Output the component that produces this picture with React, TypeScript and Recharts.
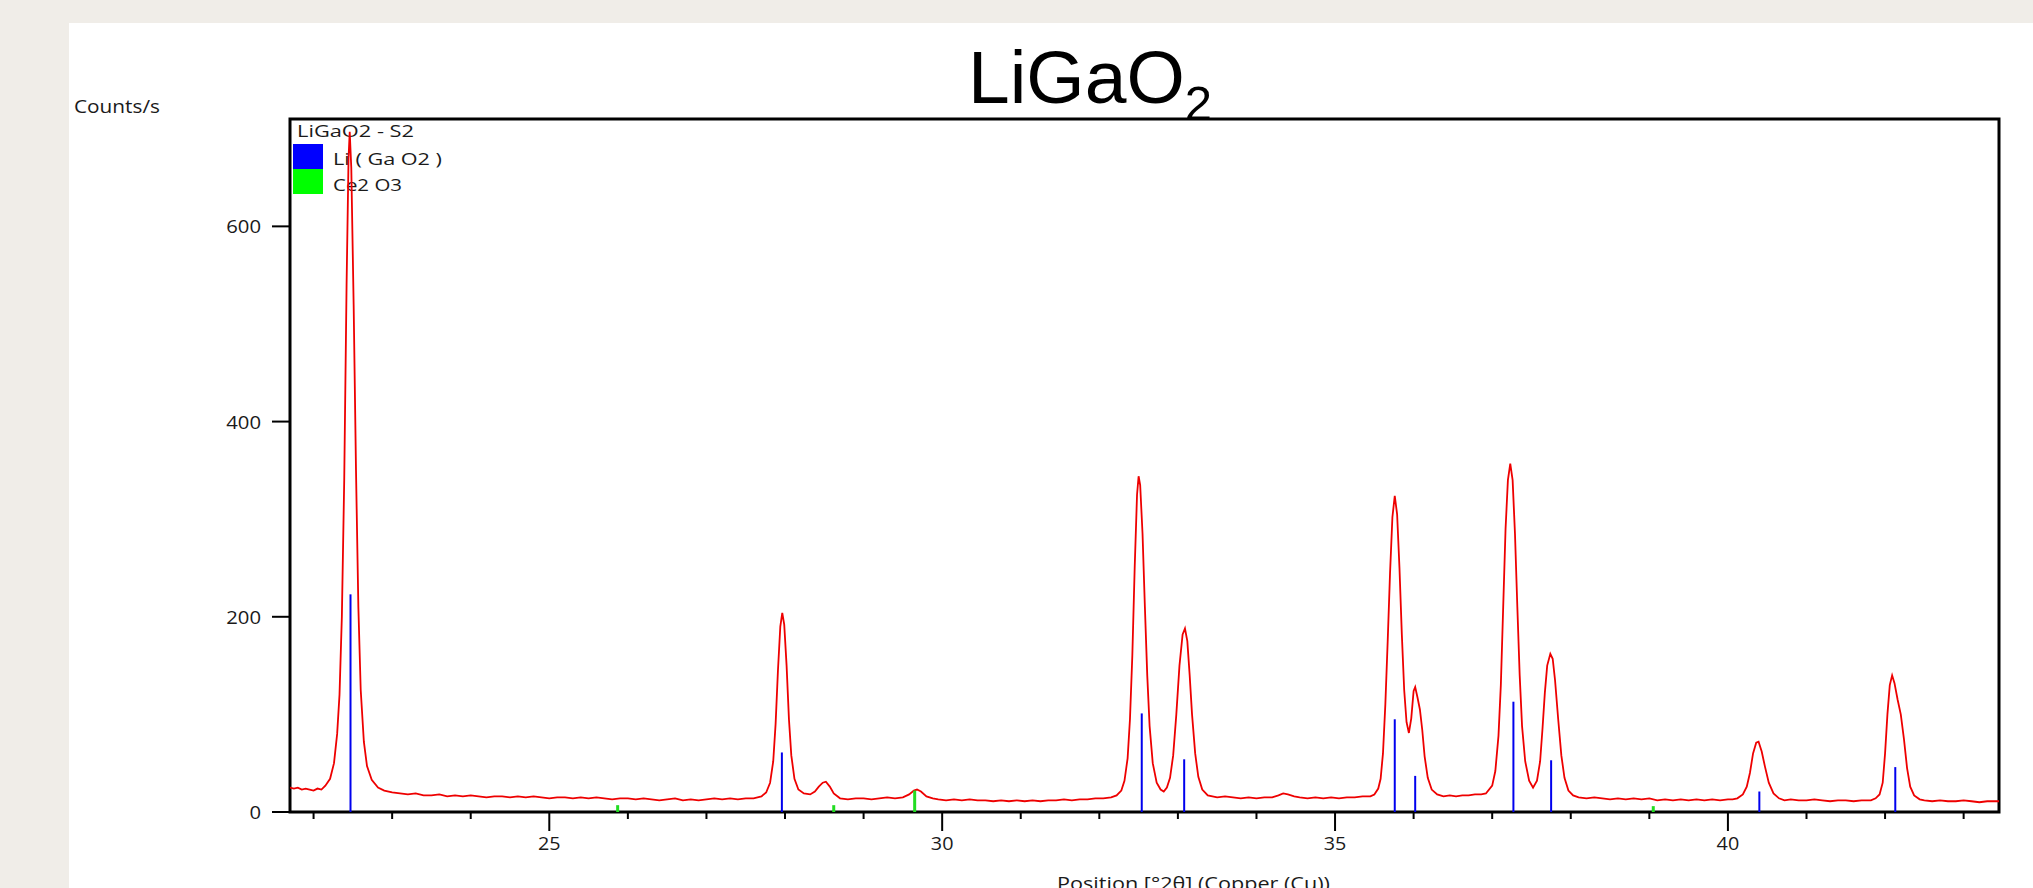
import { ComposedChart, Line, XAxis, YAxis, ReferenceLine, ReferenceArea } from 'recharts';

// measured scan, [2theta, counts/s]
const baseline22: [number, number][] = [
  [21.7, 25], [21.75, 24], [21.8, 25], [21.85, 23], [21.9, 24], [21.95, 23], [22.0, 22], [22.05, 24], [22.1, 23],
];
const peak22: [number, number][] = [
  [22.15, 27], [22.21, 34], [22.26, 50], [22.3, 80], [22.33, 120], [22.36, 200], [22.39, 340], [22.42, 540], [22.445, 670],
  [22.46, 697], [22.48, 660], [22.51, 520], [22.54, 350], [22.57, 210], [22.6, 125], [22.64, 72], [22.68, 47], [22.74, 33],
  [22.82, 25],
];
const baseline23to27: [number, number][] = [
  [22.9, 22], [23.0, 20], [23.1, 19], [23.2, 18], [23.3, 19], [23.4, 17], [23.5, 17], [23.6, 18], [23.7, 16], [23.8, 17],
  [23.9, 16], [24.0, 17], [24.1, 16], [24.2, 15], [24.3, 16], [24.4, 16], [24.5, 15], [24.6, 16], [24.7, 15], [24.8, 16],
  [24.9, 15], [25.0, 14], [25.1, 15], [25.2, 15], [25.3, 14], [25.4, 15], [25.5, 14], [25.6, 15], [25.7, 14], [25.8, 13],
  [25.9, 14], [26.0, 14], [26.1, 13], [26.2, 14], [26.3, 13], [26.4, 12], [26.5, 13], [26.6, 14], [26.7, 12], [26.8, 13],
  [26.9, 12], [27.0, 13], [27.1, 14], [27.2, 13], [27.3, 14], [27.4, 13], [27.5, 14], [27.6, 14],
];
const peak28: [number, number][] = [
  [27.7, 16], [27.76, 20], [27.81, 30], [27.85, 52], [27.88, 90], [27.91, 145], [27.94, 190], [27.965, 204], [27.99, 192],
  [28.02, 150], [28.05, 95], [28.08, 58], [28.12, 34], [28.17, 23], [28.24, 19], [28.32, 18], [28.38, 21], [28.43, 26],
  [28.48, 30], [28.52, 31], [28.57, 26], [28.62, 19], [28.7, 14],
];
const baseline29: [number, number][] = [
  [28.8, 13], [28.9, 14], [29.0, 14], [29.1, 13], [29.2, 14], [29.3, 15], [29.4, 14], [29.5, 15],
  [29.58, 18], [29.64, 22], [29.68, 23], [29.73, 21], [29.8, 16], [29.88, 14],
];
const baseline30to32: [number, number][] = [
  [29.95, 13], [30.05, 12], [30.15, 13], [30.25, 12], [30.35, 13], [30.45, 12], [30.55, 12], [30.65, 11], [30.75, 12],
  [30.85, 11], [30.95, 12], [31.05, 11], [31.15, 12], [31.25, 11], [31.35, 12], [31.45, 12], [31.55, 13], [31.65, 12],
  [31.75, 13], [31.85, 13], [31.95, 14], [32.05, 14], [32.15, 15],
];
const peak32: [number, number][] = [
  [32.22, 17], [32.28, 22], [32.32, 32], [32.36, 55], [32.39, 95], [32.42, 160], [32.45, 250], [32.48, 325], [32.5, 344],
  [32.52, 335], [32.55, 285], [32.58, 210], [32.61, 140], [32.64, 88], [32.68, 50], [32.73, 30], [32.78, 23], [32.82, 21],
  [32.86, 25], [32.9, 35], [32.94, 58], [32.98, 100], [33.02, 150], [33.06, 182], [33.09, 188], [33.12, 175], [33.15, 140],
  [33.18, 100], [33.22, 60], [33.26, 36], [33.31, 23], [33.38, 17],
];
const baseline34: [number, number][] = [
  [33.5, 15], [33.6, 16], [33.7, 15], [33.8, 14], [33.9, 15], [34.0, 14], [34.1, 15], [34.2, 15], [34.28, 17], [34.34, 19],
  [34.4, 18], [34.48, 16], [34.55, 15], [34.65, 14], [34.75, 15], [34.85, 14], [34.95, 15], [35.05, 14], [35.15, 15],
  [35.25, 15], [35.35, 16], [35.45, 16],
];
const peak36: [number, number][] = [
  [35.5, 18], [35.55, 24], [35.58, 34], [35.61, 60], [35.64, 110], [35.67, 175], [35.7, 245], [35.73, 302], [35.76, 324],
  [35.79, 305], [35.82, 250], [35.85, 182], [35.88, 125], [35.91, 92], [35.94, 81], [35.97, 96], [36.0, 124], [36.02, 128],
  [36.05, 117], [36.08, 105], [36.11, 84], [36.14, 57], [36.18, 35], [36.23, 23], [36.3, 18],
  [36.38, 16], [36.46, 17], [36.54, 16], [36.62, 17], [36.7, 17], [36.78, 18], [36.86, 18], [36.92, 19],
];
const peak37: [number, number][] = [
  [37.0, 27], [37.04, 42], [37.08, 78], [37.11, 130], [37.14, 210], [37.17, 290], [37.2, 340], [37.23, 357], [37.26, 340],
  [37.29, 285], [37.32, 210], [37.35, 140], [37.38, 88], [37.42, 52], [37.47, 32], [37.52, 25], [37.57, 32], [37.61, 52],
  [37.64, 85], [37.67, 122], [37.7, 150], [37.74, 162], [37.77, 157], [37.8, 135], [37.84, 95], [37.88, 58], [37.92, 35],
  [37.97, 22], [38.03, 17],
];
const baseline38to40: [number, number][] = [
  [38.1, 15], [38.2, 14], [38.3, 15], [38.4, 14], [38.5, 13], [38.6, 14], [38.7, 13], [38.8, 14], [38.9, 13], [39.0, 14],
  [39.1, 12], [39.2, 13], [39.3, 12], [39.4, 13], [39.5, 12], [39.6, 13], [39.7, 12], [39.8, 13], [39.9, 12], [40.0, 13],
  [40.06, 13],
];
const peak40: [number, number][] = [
  [40.12, 14], [40.19, 18], [40.24, 26], [40.28, 40], [40.32, 60], [40.36, 71], [40.39, 72], [40.43, 62], [40.47, 47],
  [40.52, 30], [40.58, 19], [40.65, 14],
  [40.72, 12], [40.8, 13], [40.9, 12], [41.0, 12], [41.1, 13], [41.2, 12], [41.3, 11], [41.4, 12], [41.5, 12], [41.6, 11],
  [41.7, 12], [41.76, 12],
];
const peak42: [number, number][] = [
  [41.82, 12], [41.88, 14], [41.93, 18], [41.97, 30], [42.0, 60], [42.03, 100], [42.06, 130], [42.09, 140], [42.12, 132],
  [42.16, 115], [42.2, 100], [42.24, 75], [42.28, 45], [42.32, 26], [42.37, 17], [42.44, 13],
  [42.5, 12], [42.6, 11], [42.7, 12], [42.8, 11], [42.9, 11], [43.0, 12], [43.1, 11], [43.2, 10], [43.3, 11], [43.4, 11],
  [43.45, 11],
];

// reference patterns (stick positions / heights)
const liGaO2Pos = [22.47, 27.96, 32.54, 33.08, 35.76, 36.02, 37.27, 37.75, 40.4, 42.13];
const liGaO2Height = [223, 61, 101, 54, 95, 37, 113, 53, 21, 46];
const ce2O3Pos = [25.87, 28.62, 29.65, 39.05];
const ce2O3Height = [7, 7, 22, 6];

const xTicks = [22, 23, 24, 25, 26, 27, 28, 29, 30, 31, 32, 33, 34, 35, 36, 37, 38, 39, 40, 41, 42, 43];
const yTicks = [0, 200, 400, 600];

const scan = [
  ...baseline22, ...peak22, ...baseline23to27, ...peak28, ...baseline29, ...baseline30to32, ...peak32,
  ...baseline34, ...peak36, ...peak37, ...baseline38to40, ...peak40, ...peak42,
].map(([pos, counts]) => ({ pos, counts }));

const labelFont = '"Open Sans", "Noto Sans", sans-serif';

const XTick = (props: any) => {
  const { x, y, payload } = props;
  const major = payload.value % 5 === 0;
  return (
    <g>
      <line x1={x} y1={y} x2={x} y2={y + (major ? 19 : 7)} stroke="#000" strokeWidth={2} />
      {major && (
        <text x={x} y={y + 38} textAnchor="middle" fontFamily={labelFont} fontSize={19} fill="#1a1a1a"
          textLength={String(payload.value).length * 11.3} lengthAdjust="spacingAndGlyphs">
          {payload.value}
        </text>
      )}
    </g>
  );
};

const YTick = (props: any) => {
  const { x, y, payload } = props;
  return (
    <g>
      <line x1={x - 18} y1={y} x2={x} y2={y} stroke="#000" strokeWidth={2} />
      <text x={x - 29} y={y + 7} textAnchor="end" fontFamily={labelFont} fontSize={19} fill="#1a1a1a"
        textLength={String(payload.value).length * 11.6} lengthAdjust="spacingAndGlyphs">
        {payload.value}
      </text>
    </g>
  );
};

export default function App() {
  return (
    <div style={{ position: 'relative', width: 2033, height: 888, background: '#f0ede8', overflow: 'hidden' }}>
      <style>{`body{margin:0}`}</style>
      <div style={{ position: 'absolute', left: 69, top: 23, right: 0, bottom: 0, background: '#fff' }} />

      {/* legend sits under the trace, like in the HighScore export */}
      <svg width={2033} height={888} style={{ position: 'absolute', left: 0, top: 0 }}>
        <text x={297} y={137} fontFamily={labelFont} fontSize={16} fill="#1a1a1a" textLength={117} lengthAdjust="spacingAndGlyphs">
          LiGaO2 - S2
        </text>
        <rect x={293} y={144} width={30} height={25} fill="#0000ff" />
        <text x={333} y={165} fontFamily={labelFont} fontSize={17} fill="#1a1a1a" textLength={109} lengthAdjust="spacingAndGlyphs">
          Li ( Ga O2 )
        </text>
        <rect x={293} y={169} width={30} height={25} fill="#00ff00" />
        <text x={333} y={191} fontFamily={labelFont} fontSize={17} fill="#1a1a1a" textLength={69} lengthAdjust="spacingAndGlyphs">
          Ce2 O3
        </text>
      </svg>

      <div style={{ position: 'absolute', left: 0, top: 0 }}>
        <ComposedChart width={2033} height={888} data={scan} margin={{ top: 119, right: 34, bottom: 0, left: 0 }}>
          <XAxis dataKey="pos" type="number" domain={[21.7, 43.45]} allowDataOverflow ticks={xTicks} interval={0}
            height={76} axisLine={false} tickLine={false} tickSize={0} tickMargin={0} tick={<XTick />} />
          <YAxis type="number" domain={[0, 710]} allowDataOverflow ticks={yTicks} interval={0}
            width={290} axisLine={false} tickLine={false} tickSize={0} tickMargin={0} tick={<YTick />} />
          <ReferenceArea x1={21.7} x2={43.45} y1={0} y2={710} fill="none" stroke="#000" strokeWidth={3} />
          <Line type="linear" dataKey="counts" stroke="#ee0000" strokeWidth={1.8} dot={false} isAnimationActive={false} />
          {liGaO2Pos.map((p, i) => (
            <ReferenceLine key={'b' + i} segment={[{ x: p, y: 0 }, { x: p, y: liGaO2Height[i] }]} stroke="#0000ee" strokeWidth={2} />
          ))}
          {ce2O3Pos.map((p, i) => (
            <ReferenceLine key={'g' + i} segment={[{ x: p, y: 0 }, { x: p, y: ce2O3Height[i] }]} stroke="#22dd22" strokeWidth={3} />
          ))}
        </ComposedChart>
      </div>

      <svg width={2033} height={888} style={{ position: 'absolute', left: 0, top: 0, pointerEvents: 'none' }}>
        <text x={968} y={103} fontFamily='"Liberation Sans", Arial, sans-serif' fontSize={75} fill="#000">
          LiGaO<tspan fontSize={49} dy={17}>2</tspan>
        </text>
        <text x={74} y={113} fontFamily={labelFont} fontSize={19} fill="#1a1a1a" textLength={86} lengthAdjust="spacingAndGlyphs">
          Counts/s
        </text>
        <text x={1057} y={890} fontFamily={labelFont} fontSize={19} fill="#1a1a1a" textLength={273} lengthAdjust="spacingAndGlyphs">
          Position [°2θ] (Copper (Cu))
        </text>
      </svg>
    </div>
  );
}
